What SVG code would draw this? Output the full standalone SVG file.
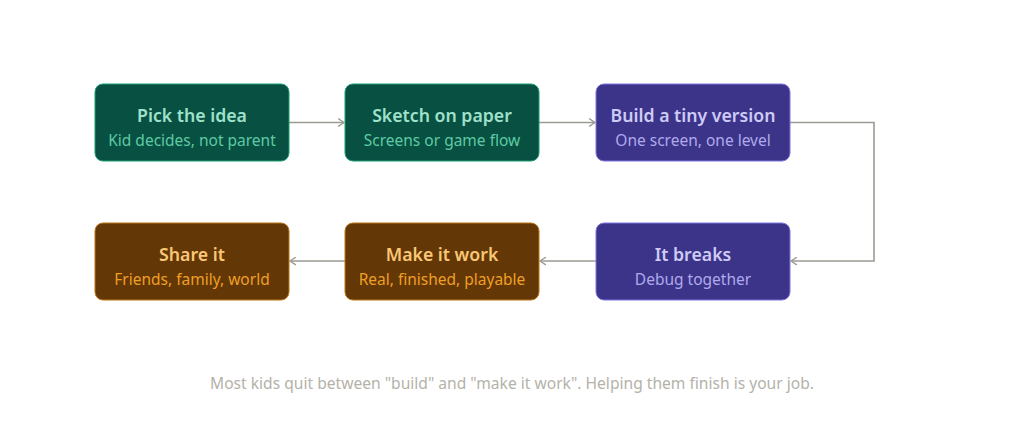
<svg xmlns="http://www.w3.org/2000/svg" width="1024" height="445" viewBox="0 0 1024 445">
<style>
.t{font-family:"Noto Sans","Open Sans","Liberation Sans",sans-serif;font-size:17.7px;font-weight:600;text-anchor:middle}
.s{font-family:"Noto Sans","Open Sans","Liberation Sans",sans-serif;font-size:15.5px;font-weight:400;text-anchor:middle}
.g rect{fill:#085041;stroke:#1d9e75;stroke-width:1}
.g .t{fill:#9fe1cb}.g .s{fill:#5dcaa5}
.p rect{fill:#3c3489;stroke:#7f77dd;stroke-width:1}
.p .t{fill:#cecbf6}.p .s{fill:#afa9ec}
.b rect{fill:#633806;stroke:#ba7517;stroke-width:1}
.b .t{fill:#fac775}.b .s{fill:#ef9f27}
.c{fill:none;stroke:#9c9a92;stroke-width:1.6}
.f{font-family:"Noto Sans","Open Sans","Liberation Sans",sans-serif;font-size:15.6px;fill:#b4b2a9;text-anchor:middle}
</style>
<defs>
<marker id="arr" viewBox="0 0 10 10" refX="8" refY="5" markerWidth="9" markerHeight="9" orient="auto-start-reverse" markerUnits="userSpaceOnUse">
<path d="M2 1L8 5L2 9" fill="none" stroke="#9c9a92" stroke-width="1.5" stroke-linecap="round" stroke-linejoin="round"/>
</marker>
</defs>
<rect width="1024" height="445" fill="#ffffff"/>
<g id="connectors">
<line class="c" x1="289" y1="122.5" x2="344" y2="122.5" marker-end="url(#arr)"/>
<line class="c" x1="539" y1="122.5" x2="595" y2="122.5" marker-end="url(#arr)"/>
<path class="c" d="M790 122.5H874V261H791" marker-end="url(#arr)"/>
<line class="c" x1="596" y1="261" x2="540" y2="261" marker-end="url(#arr)"/>
<line class="c" x1="345" y1="261" x2="290" y2="261" marker-end="url(#arr)"/>
</g>
<g id="n1" class="g">
<rect x="95" y="84" width="194" height="77" rx="8"/>
<text class="t" x="192" y="122">Pick the idea</text>
<text class="s" x="192" y="146">Kid decides, not parent</text>
</g>
<g id="n2" class="g">
<rect x="345" y="84" width="194" height="77" rx="8"/>
<text class="t" x="442" y="122">Sketch on paper</text>
<text class="s" x="442" y="146">Screens or game flow</text>
</g>
<g id="n3" class="p">
<rect x="596" y="84" width="194" height="77" rx="8"/>
<text class="t" x="693" y="122">Build a tiny version</text>
<text class="s" x="693" y="146">One screen, one level</text>
</g>
<g id="n4" class="p">
<rect x="596" y="223" width="194" height="77" rx="8"/>
<text class="t" x="693" y="261">It breaks</text>
<text class="s" x="693" y="285">Debug together</text>
</g>
<g id="n5" class="b">
<rect x="345" y="223" width="194" height="77" rx="8"/>
<text class="t" x="442" y="261">Make it work</text>
<text class="s" x="442" y="285">Real, finished, playable</text>
</g>
<g id="n6" class="b">
<rect x="95" y="223" width="194" height="77" rx="8"/>
<text class="t" x="192" y="261">Share it</text>
<text class="s" x="192" y="285">Friends, family, world</text>
</g>
<text class="f" x="512" y="389">Most kids quit between "build" and "make it work". Helping them finish is your job.</text>
</svg>
